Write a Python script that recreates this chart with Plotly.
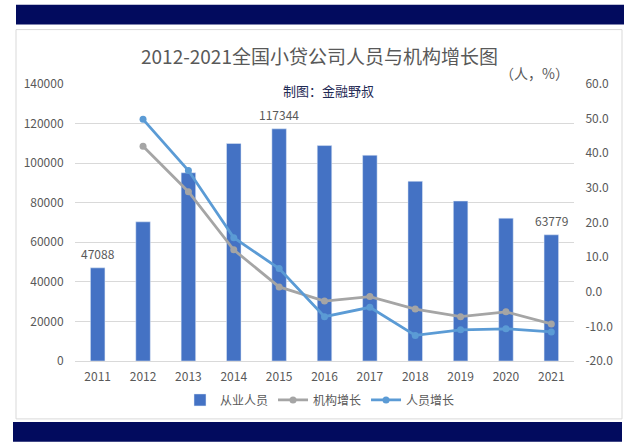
import plotly.graph_objects as go

years = [2011, 2012, 2013, 2014, 2015, 2016, 2017, 2018, 2019, 2020, 2021]
employees = [47088, 70343, 95136, 109948, 117344, 108881, 103988, 90839, 80846, 72172, 63779]
inst_growth = [None, 42.0, 28.9, 12.1, 1.4, -2.7, -1.4, -5.0, -7.2, -5.8, -9.3]
staff_growth = [None, 49.8, 35.0, 15.6, 6.7, -7.2, -4.5, -12.6, -11.0, -10.7, -11.6]
labeled_years = [2011, 2015, 2021]
left_ticks = [0, 20000, 40000, 60000, 80000, 100000, 120000, 140000]
right_ticks = [-20, -10, 0, 10, 20, 30, 40, 50, 60]
right_ticktext = ["-20.0", "-10.0", "0.0", "10.0", "20.0", "30.0", "40.0", "50.0", "60.0"]

W, H = 640, 446
L, R, T, B = 75, 574, 83.5, 361
pw, ph = R - L, B - T

def px(x):
    return (x - L) / pw

def py(y):
    return (B - y) / ph

FONT = "Noto Sans CJK SC"
GRAY = "#595959"

fig = go.Figure()
fig.add_trace(go.Bar(x=years, y=employees, name="从业人员", marker_color="#4472C4",
                     width=0.32, yaxis="y"))
fig.add_trace(go.Scatter(x=years, y=inst_growth, name="机构增长", mode="lines+markers",
                         line=dict(color="#A5A5A5", width=2.8), marker=dict(size=7, color="#A5A5A5"),
                         yaxis="y2"))
fig.add_trace(go.Scatter(x=years, y=staff_growth, name="人员增长", mode="lines+markers",
                         line=dict(color="#5B9BD5", width=2.8), marker=dict(size=7, color="#5B9BD5"),
                         yaxis="y2"))

annotations = [
    dict(text="2012-2021全国小贷公司人员与机构增长图", xref="paper", yref="paper",
         x=px(319), y=py(55), showarrow=False, xanchor="center", yanchor="middle",
         font=dict(size=19, color=GRAY, family=FONT)),
    dict(text="（人，%）", xref="paper", yref="paper",
         x=px(534), y=py(72), showarrow=False, xanchor="center", yanchor="middle",
         font=dict(size=14, color=GRAY, family=FONT)),
    dict(text="制图：金融野叔", xref="paper", yref="paper",
         x=px(328), y=py(90), showarrow=False, xanchor="center", yanchor="middle",
         font=dict(size=13, color="#1f2a55", family=FONT)),
]
for yr in labeled_years:
    v = employees[years.index(yr)]
    annotations.append(dict(text=str(v), x=yr, y=v, xref="x", yref="y", showarrow=False,
                            yshift=14, font=dict(size=12, color=GRAY, family=FONT)))

NAVY = "#020b5e"
shapes = [
    dict(type="rect", xref="paper", yref="paper", x0=px(16), x1=px(622), y0=py(419), y1=py(29),
         fillcolor="white", line=dict(color="#d9d9d9", width=1), layer="below"),
    dict(type="rect", xref="paper", yref="paper", x0=px(16), x1=px(624), y0=py(24), y1=py(4),
         fillcolor=NAVY, line=dict(width=0), layer="below"),
    dict(type="rect", xref="paper", yref="paper", x0=px(13), x1=px(622), y0=py(442), y1=py(422),
         fillcolor=NAVY, line=dict(width=0), layer="below"),
]

fig.update_layout(
    width=W, height=H,
    margin=dict(l=L, r=W - R, t=T, b=H - B, autoexpand=False),
    paper_bgcolor="white", plot_bgcolor="rgba(0,0,0,0)",
    font=dict(family=FONT, color=GRAY, size=12),
    showlegend=True,
    legend=dict(orientation="h", x=px(320), xanchor="center", y=py(400), yanchor="middle",
                font=dict(size=12, color=GRAY, family=FONT), itemwidth=30, traceorder="normal",
                bgcolor="rgba(0,0,0,0)"),
    xaxis=dict(range=[2010.5, 2021.5], tickvals=years, tickformat="d",
               showgrid=False, showline=True, linecolor="#d9d9d9",
               ticks="outside", ticklen=5, tickcolor="rgba(0,0,0,0)",
               tickfont=dict(size=12, color=GRAY), zeroline=False),
    yaxis=dict(range=[0, 140000], tickvals=left_ticks, tickformat="d",
               showgrid=True, gridcolor="#d9d9d9",
               zeroline=False, ticks="outside", ticklen=8, tickcolor="rgba(0,0,0,0)",
               tickfont=dict(size=12, color=GRAY)),
    yaxis2=dict(range=[-20, 60], overlaying="y", side="right", tickvals=right_ticks,
                ticktext=right_ticktext, showgrid=False, zeroline=False,
                ticks="outside", ticklen=8, tickcolor="rgba(0,0,0,0)",
                tickfont=dict(size=12, color=GRAY)),
    annotations=annotations,
    shapes=shapes,
)

fig.write_html("out.html", config={"displayModeBar": False},
               post_script="document.body.style.margin='0px';document.body.style.overflow='hidden';")
